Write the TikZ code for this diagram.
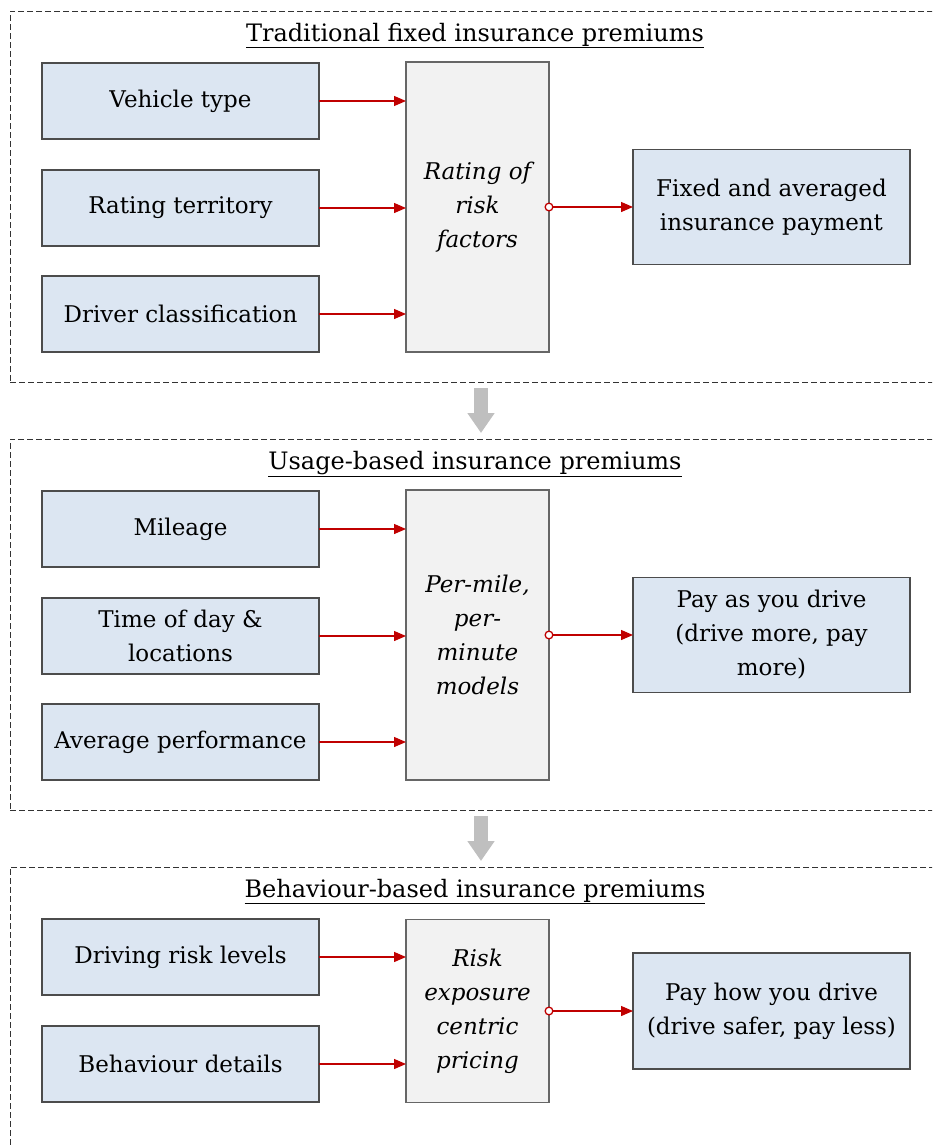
\documentclass[tikz,border=0pt]{standalone}
\usepackage{fontspec}
\setmainfont{DejaVu Serif}
\usetikzlibrary{arrows.meta, calc, positioning}

\definecolor{boxblue}{HTML}{DCE6F2}
\definecolor{ctrgray}{HTML}{F2F2F2}
\definecolor{feedred}{HTML}{C00000}
\definecolor{stepgray}{HTML}{BFBFBF}

\newcommand{\boxfont}{\fontsize{23}{34}\selectfont}

\tikzset{
    frame/.style={draw=black!80, dash pattern=on 6pt off 3pt, line width=0.9pt, minimum width=942pt, outer sep=0pt},
    heading/.style={anchor=base, inner sep=0pt, font=\fontsize{24}{34}\selectfont},
    inbox/.style={draw=black!70, fill=boxblue, line width=1.2pt, minimum width=277pt, minimum height=76pt, align=center, outer sep=0pt},
    midbox/.style={draw=black!60, fill=ctrgray, line width=1.2pt, minimum width=143pt, align=center, font=\boxfont\itshape, outer sep=0pt},
    outbox/.style={inbox, minimum height=115pt},
    feed/.style={draw=feedred, line width=1.3pt, -{Triangle[length=12pt,width=10pt]}},
    result/.style={feed, {Circle[open,length=9pt,width=9pt,fill=white]}-{Triangle[length=12pt,width=10pt]}, shorten <=-4.5pt},
    stepdown/.style={draw=stepgray, line width=14pt, -{Triangle[length=20pt,width=26pt]}}
}

\begin{document}
\begin{tikzpicture}[x=1pt, y=-1pt, font=\boxfont]
    \clip (0,0) rectangle (932,1146);

% fixed premiums
\begin{scope}
    \node[frame, minimum height=371pt] (fixedframe) at (481,196.5) {};
    \node[heading] (fixedtitle) at (475,41) {\underline{Traditional fixed insurance premiums}};
    \node[inbox] (vehicle) at (180.5,101) {Vehicle type};
    \node[inbox] (territory) at (180.5,208) {Rating territory};
    \node[inbox] (driver) at (180.5,314) {Driver classification};
    \node[midbox, minimum height=290pt] (rating) at (477.5,207) {Rating of\\risk\\factors};
    \node[outbox] (fixedpay) at (771.5,207) {Fixed and averaged\\insurance payment};
\end{scope}

\draw[feed] (vehicle.east) -- (vehicle.east -| rating.west);
\draw[feed] (territory.east) -- (territory.east -| rating.west);
\draw[feed] (driver.east) -- (driver.east -| rating.west);
\draw[result] (rating.east) -- (fixedpay.west);

% usage-based premiums
\begin{scope}[shift={(0,428)}]
    \node[frame, minimum height=371pt] (usageframe) at (481,196.5) {};
    \node[heading] (usagetitle) at (475,41) {\underline{Usage-based insurance premiums}};
    \node[inbox] (mileage) at (180.5,101) {Mileage};
    \node[inbox] (timeofday) at (180.5,208) {Time of day \&\\locations};
    \node[inbox] (avgperf) at (180.5,314) {Average performance};
    \node[midbox, minimum height=290pt] (permile) at (477.5,207) {Per-mile,\\per-\\minute\\models};
    \node[outbox] (payasyou) at (771.5,207) {Pay as you drive\\(drive more, pay\\more)};
\end{scope}

\draw[feed] (mileage.east) -- (mileage.east -| permile.west);
\draw[feed] (timeofday.east) -- (timeofday.east -| permile.west);
\draw[feed] (avgperf.east) -- (avgperf.east -| permile.west);
\draw[result] (permile.east) -- (payasyou.west);

% behaviour-based premiums
\begin{scope}[shift={(0,856)}]
    \node[frame, minimum height=400pt] (behavframe) at (481,211) {};
    \node[heading] (behavtitle) at (475,41) {\underline{Behaviour-based insurance premiums}};
    \node[inbox] (risklevels) at (180.5,101) {Driving risk levels};
    \node[inbox] (behavdetails) at (180.5,208) {Behaviour details};
    \node[midbox, minimum height=183pt] (exposure) at (477.5,155) {Risk\\exposure\\centric\\pricing};
    \node[outbox, minimum height=116pt] (payhow) at (771.5,155) {Pay how you drive\\(drive safer, pay less)};
\end{scope}

\draw[feed] (risklevels.east) -- (risklevels.east -| exposure.west);
\draw[feed] (behavdetails.east) -- (behavdetails.east -| exposure.west);
\draw[result] (exposure.east) -- (payhow.west);

% steps between the frames
\draw[stepdown] ($(fixedframe.south)+(0,6)$) -- ($(usageframe.north)+(0,-6)$);
\draw[stepdown] ($(usageframe.south)+(0,6)$) -- ($(behavframe.north)+(0,-6)$);

\end{tikzpicture}
\end{document}
